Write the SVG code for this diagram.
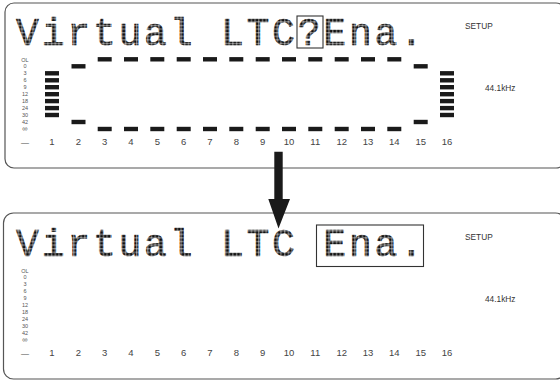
<svg xmlns="http://www.w3.org/2000/svg" width="560" height="381" viewBox="0 0 560 381">
<defs>
<pattern id="dots" patternUnits="userSpaceOnUse" x="0" y="0.5" width="3.7" height="3.6">
<rect x="0.2" y="0.2" width="3.1" height="3" fill="#111"/>
</pattern>
<style>
.panel{fill:#fff;stroke:#555;stroke-width:1.2}
.lcd{font-family:"Liberation Mono",monospace;font-size:38px;fill:url(#dots);stroke:url(#dots);stroke-width:0.6;text-anchor:middle}
.scale{font-family:"Liberation Sans",Arial,sans-serif;font-size:5.5px;fill:#555;text-anchor:middle}
.inf{font-size:7.5px}
.num{font-family:"Liberation Sans",Arial,sans-serif;font-size:9.5px;fill:#444;text-anchor:middle}
.info{font-family:"Liberation Sans",Arial,sans-serif;font-size:8.3px;fill:#333}
.bar{fill:#1a1a1a}
.box{fill:none;stroke:#333;stroke-width:1.1}
</style>
<g id="scale-labels">
<text class="scale" x="25" y="62">OL</text>
<text class="scale" x="25" y="68">0</text>
<text class="scale" x="25" y="75">3</text>
<text class="scale" x="25" y="82">6</text>
<text class="scale" x="25" y="89">9</text>
<text class="scale" x="25" y="96">12</text>
<text class="scale" x="25" y="103">18</text>
<text class="scale" x="25" y="110">24</text>
<text class="scale" x="25" y="117">30</text>
<text class="scale" x="25" y="123.5">42</text>
<text class="scale inf" x="25" y="131">∞</text>
<text class="num" x="25" y="145" style="font-size:8px">—</text>
<text class="num" x="52" y="145">1</text>
<text class="num" x="78.3" y="145">2</text>
<text class="num" x="104.7" y="145">3</text>
<text class="num" x="131" y="145">4</text>
<text class="num" x="157.3" y="145">5</text>
<text class="num" x="183.7" y="145">6</text>
<text class="num" x="210" y="145">7</text>
<text class="num" x="236.3" y="145">8</text>
<text class="num" x="262.7" y="145">9</text>
<text class="num" x="289" y="145">10</text>
<text class="num" x="315.3" y="145">11</text>
<text class="num" x="341.7" y="145">12</text>
<text class="num" x="368" y="145">13</text>
<text class="num" x="394.3" y="145">14</text>
<text class="num" x="420.7" y="145">15</text>
<text class="num" x="447" y="145">16</text>
<text class="info" x="465" y="29">SETUP</text>
<text class="info" x="485" y="91">44.1kHz</text>
</g>
</defs>

<g id="panel-top">
<rect class="panel" x="5" y="3" width="560" height="165" rx="9"/>
<text class="lcd" x="27.5 53.1 78.7 104.3 129.9 155.5 181.1 206.7 232.3 257.9 283.5 309.1 334.7 360.3 385.9 411.5" y="45">Virtual LTC?Ena.</text>
<rect class="box" x="297" y="16" width="26" height="32"/>
<use href="#scale-labels"/>
<g id="meter-bars">
<rect class="bar" x="45" y="71.1" width="14" height="4.4"/>
<rect class="bar" x="45" y="78.1" width="14" height="4.4"/>
<rect class="bar" x="45" y="85" width="14" height="4.4"/>
<rect class="bar" x="45" y="92" width="14" height="4.4"/>
<rect class="bar" x="45" y="98.9" width="14" height="4.4"/>
<rect class="bar" x="45" y="105.9" width="14" height="4.4"/>
<rect class="bar" x="45" y="112.8" width="14" height="4.4"/>
<rect class="bar" x="440" y="71.1" width="14" height="4.4"/>
<rect class="bar" x="440" y="78.1" width="14" height="4.4"/>
<rect class="bar" x="440" y="85" width="14" height="4.4"/>
<rect class="bar" x="440" y="92" width="14" height="4.4"/>
<rect class="bar" x="440" y="98.9" width="14" height="4.4"/>
<rect class="bar" x="440" y="105.9" width="14" height="4.4"/>
<rect class="bar" x="440" y="112.8" width="14" height="4.4"/>
<rect class="bar" x="71.5" y="64.1" width="14" height="4.4"/>
<rect class="bar" x="71.5" y="119.8" width="14" height="4.4"/>
<rect class="bar" x="413.7" y="64.1" width="14" height="4.4"/>
<rect class="bar" x="413.7" y="119.8" width="14" height="4.4"/>
<rect class="bar" x="97.7" y="57.1" width="14" height="4.4"/>
<rect class="bar" x="124" y="57.1" width="14" height="4.4"/>
<rect class="bar" x="150.3" y="57.1" width="14" height="4.4"/>
<rect class="bar" x="176.7" y="57.1" width="14" height="4.4"/>
<rect class="bar" x="203" y="57.1" width="14" height="4.4"/>
<rect class="bar" x="229.3" y="57.1" width="14" height="4.4"/>
<rect class="bar" x="255.7" y="57.1" width="14" height="4.4"/>
<rect class="bar" x="282" y="57.1" width="14" height="4.4"/>
<rect class="bar" x="308.3" y="57.1" width="14" height="4.4"/>
<rect class="bar" x="334.7" y="57.1" width="14" height="4.4"/>
<rect class="bar" x="361" y="57.1" width="14" height="4.4"/>
<rect class="bar" x="387.3" y="57.1" width="14" height="4.4"/>
<rect class="bar" x="97.7" y="126.8" width="14" height="4.4"/>
<rect class="bar" x="124" y="126.8" width="14" height="4.4"/>
<rect class="bar" x="150.3" y="126.8" width="14" height="4.4"/>
<rect class="bar" x="176.7" y="126.8" width="14" height="4.4"/>
<rect class="bar" x="203" y="126.8" width="14" height="4.4"/>
<rect class="bar" x="229.3" y="126.8" width="14" height="4.4"/>
<rect class="bar" x="255.7" y="126.8" width="14" height="4.4"/>
<rect class="bar" x="282" y="126.8" width="14" height="4.4"/>
<rect class="bar" x="308.3" y="126.8" width="14" height="4.4"/>
<rect class="bar" x="334.7" y="126.8" width="14" height="4.4"/>
<rect class="bar" x="361" y="126.8" width="14" height="4.4"/>
<rect class="bar" x="387.3" y="126.8" width="14" height="4.4"/>
</g>
</g>

<g id="panel-bottom">
<rect class="panel" x="3.5" y="213" width="562" height="166" rx="10"/>
<text class="lcd" x="27.5 53.1 78.7 104.3 129.9 155.5 181.1 206.7 232.3 257.9 283.5" y="256">Virtual LTC</text>
<text class="lcd" x="334.7 360.3 385.9 411.5" y="256">Ena.</text>
<rect class="box" x="316.5" y="225" width="107" height="41.5"/>
<use href="#scale-labels" y="211"/>
</g>

<g id="connectors">
<path d="M274.3 151.7 H282.7 V199 H290 L278.5 228.5 L268.3 199 H274.3 Z" fill="#1a1a1a"/>
</g>
</svg>
